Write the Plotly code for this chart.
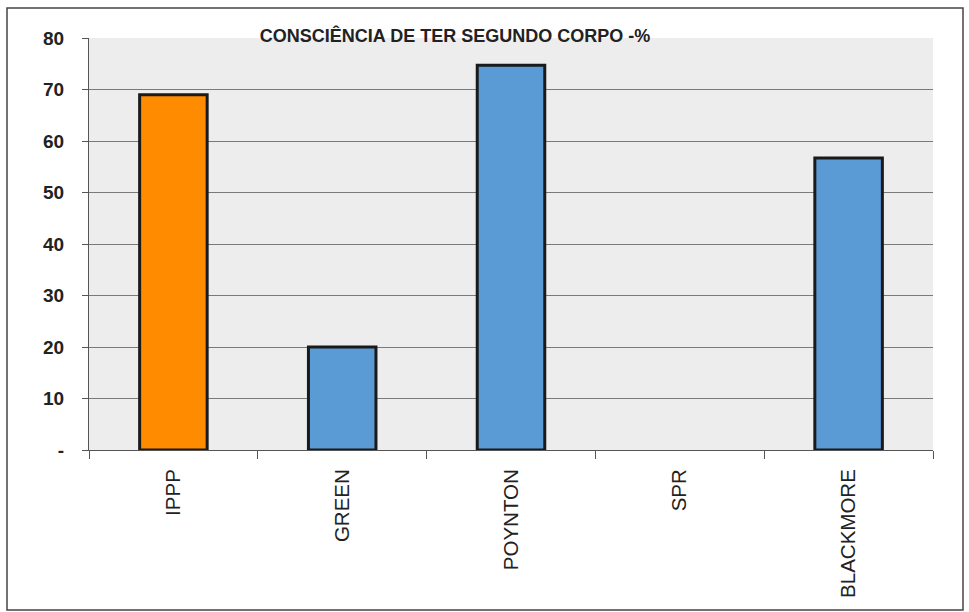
import plotly.graph_objects as go

categories = ["IPPP", "GREEN", "POYNTON", "SPR", "BLACKMORE"]
values = [69, 20, 74.7, 0, 56.7]
bar_colors = ["#FF8C00", "#5B9BD5", "#5B9BD5", "#5B9BD5", "#5B9BD5"]
y_tickvals = [0, 10, 20, 30, 40, 50, 60, 70, 80]
y_ticktext = ["-", "10", "20", "30", "40", "50", "60", "70", "80"]
title_text = "CONSCIÊNCIA DE TER SEGUNDO CORPO -%"

line_widths = [3 if v > 0 else 0 for v in values]

fig = go.Figure(go.Bar(
    x=categories, y=values,
    marker=dict(color=bar_colors, line=dict(color="#1a1a1a", width=line_widths)),
    width=0.4,
))

FONT = "Liberation Sans, Arial, sans-serif"
fig.update_layout(
    width=969, height=612,
    margin=dict(l=89, r=36, t=38, b=162),
    paper_bgcolor="white",
    plot_bgcolor="#ededed",
    showlegend=False,
    font=dict(family=FONT, color="#222"),
    title=dict(text="<b>" + title_text + "</b>", x=455/969, xanchor="center",
               y=1 - 36/612, yanchor="middle", font=dict(size=18, color="#222", family=FONT)),
)
fig.update_yaxes(
    range=[0, 80], tickvals=y_tickvals, ticktext=y_ticktext,
    showgrid=True, gridcolor="#7a7a7a", gridwidth=1,
    showline=True, linecolor="#555", linewidth=1,
    ticks="outside", ticklen=6, tickcolor="#555",
    ticklabelstandoff=14,
    tickfont=dict(size=19, color="#222", family=FONT, weight="bold"),
    zeroline=False,
)
fig.update_xaxes(
    tickangle=-90, tickson="boundaries", ticks="outside", ticklen=8, tickcolor="#555",
    showline=True, linecolor="#555", linewidth=1, showgrid=False,
    ticklabelstandoff=10,
    tickfont=dict(size=20.5, color="#222", family=FONT),
)
fig.add_shape(type="rect", xref="paper", yref="paper",
              x0=-82/844, x1=1 + 30/844, y0=-160/412, y1=1 + 30/412,
              line=dict(color="#444", width=1.5), fillcolor="rgba(0,0,0,0)", layer="below")

fig.write_html("out.html")
